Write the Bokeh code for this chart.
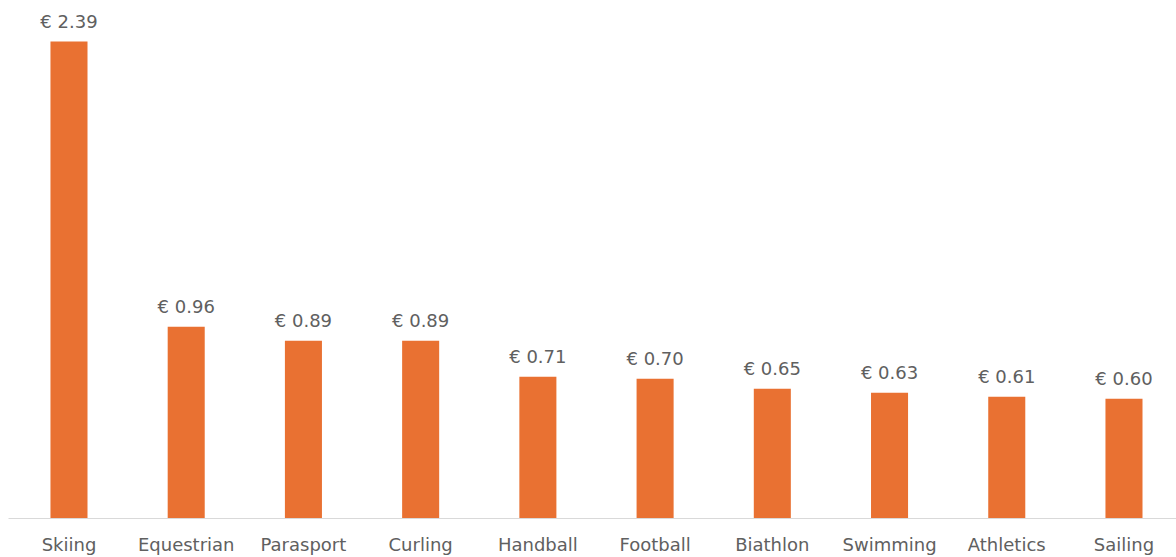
from bokeh.plotting import figure
from bokeh.models import ColumnDataSource, FixedTicker
from bokeh.core.properties import value
from bokeh.embed import file_html
from bokeh.resources import INLINE

categories = ["Skiing", "Equestrian", "Parasport", "Curling", "Handball",
              "Football", "Biathlon", "Swimming", "Athletics", "Sailing"]
values = [2.39, 0.96, 0.89, 0.89, 0.71, 0.70, 0.65, 0.63, 0.61, 0.60]

xs = list(range(len(categories)))
labels = [f"€ {v:.2f}" for v in values]
src = ColumnDataSource(dict(x=xs, top=values, label=labels))

p = figure(width=1176, height=557, output_backend="svg", toolbar_location=None,
           x_range=(-0.516, 9.448), y_range=(0, 2.595),
           min_border_left=8, min_border_right=0, min_border_top=0, min_border_bottom=39)
p.outline_line_color = None
p.xgrid.visible = False
p.ygrid.visible = False
p.yaxis.visible = False

p.vbar(x="x", top="top", bottom=0, width=0.316, source=src,
       fill_color="#E97132", line_color=None)
p.text(x="x", y="top", text="label", source=src, text_align="center",
       text_baseline="alphabetic", y_offset=-20,
       text_font=value("DejaVu Sans"), text_font_size="18px", text_color="#606060")

ax = p.xaxis[0]
ax.ticker = FixedTicker(ticks=xs)
ax.major_label_overrides = {i: c for i, c in enumerate(categories)}
ax.major_tick_out = 0
ax.major_tick_in = 0
ax.minor_tick_out = 0
ax.minor_tick_in = 0
ax.axis_line_color = "#D9D9D9"
ax.axis_line_width = 1
ax.major_label_standoff = 15
ax.major_label_text_font = "DejaVu Sans"
ax.major_label_text_font_size = "18px"
ax.major_label_text_color = "#606060"

open("out.html", "w").write(file_html(p, INLINE))
